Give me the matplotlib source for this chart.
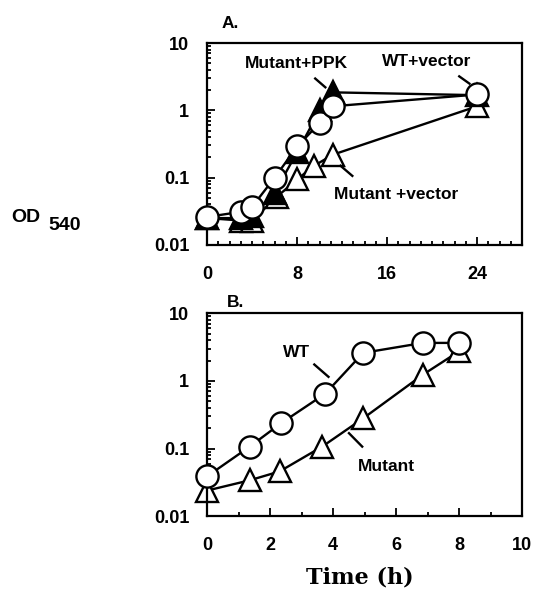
import numpy as np
import matplotlib
matplotlib.use("Agg")
import matplotlib.pyplot as plt
from matplotlib.ticker import FixedLocator, MultipleLocator, LogLocator, NullFormatter

plt.rcParams['font.family'] = ['Liberation Sans', 'DejaVu Sans']
plt.rcParams['font.weight'] = 'bold'

# Panel A data (time in h, OD540)
a_wt_t = [0, 3, 4, 6, 8, 10, 11.2, 24]
a_wt_od = [0.026, 0.031, 0.037, 0.10, 0.29, 0.65, 1.15, 1.72]
a_ppk_t = [0, 3, 4, 6, 8, 10, 11.2, 24]
a_ppk_od = [0.025, 0.025, 0.027, 0.06, 0.24, 1.0, 1.85, 1.68]
a_vec_t = [0, 3, 4, 6.2, 8, 9.5, 11.2, 24]
a_vec_od = [0.025, 0.023, 0.023, 0.052, 0.094, 0.15, 0.22, 1.15]

# Panel B data
b_wt_t = [0, 1.35, 2.35, 3.75, 4.95, 6.85, 8.0]
b_wt_od = [0.039, 0.107, 0.238, 0.65, 2.6, 3.65, 3.65]
b_mut_t = [0, 1.35, 2.3, 3.65, 4.95, 6.85, 8.0]
b_mut_od = [0.024, 0.034, 0.046, 0.107, 0.28, 1.24, 2.75]

y_ticks = [0.01, 0.1, 1, 10]
y_labels = ['0.01', '0.1', '1', '10']

fig = plt.figure(figsize=(5.34, 5.90), dpi=100)
axA = fig.add_axes([0.388, 0.585, 0.590, 0.342])
axB = fig.add_axes([0.388, 0.125, 0.590, 0.344])

ms = 16
lw = 1.7
tri = dict(marker='^', ms=ms, mew=lw, mec='black', color='black', lw=lw)
circ = dict(marker='o', ms=ms, mew=lw, mec='black', mfc='white', color='black', lw=lw)

# Panel A
axA.plot(a_vec_t, a_vec_od, mfc='white', zorder=2, clip_on=False, **tri)
axA.plot(a_ppk_t, a_ppk_od, mfc='black', zorder=3, clip_on=False, **tri)
axA.plot(a_wt_t, a_wt_od, zorder=4, clip_on=False, **circ)

# Panel B
axB.plot(b_mut_t, b_mut_od, mfc='white', zorder=2, clip_on=False, **tri)
axB.plot(b_wt_t, b_wt_od, zorder=4, clip_on=False, **circ)

for ax in (axA, axB):
    ax.set_yscale('log')
    ax.set_ylim(0.01, 10)
    ax.yaxis.set_major_locator(FixedLocator(y_ticks))
    ax.set_yticklabels(y_labels)
    ax.yaxis.set_minor_locator(LogLocator(base=10, subs=np.arange(2, 10)))
    ax.yaxis.set_minor_formatter(NullFormatter())
    for s in ax.spines.values():
        s.set_linewidth(1.6)
    ax.tick_params(which='both', direction='in', top=False, right=False, width=1.3)
    ax.tick_params(which='major', length=6, labelsize=13)
    ax.tick_params(which='minor', length=3)
    ax.tick_params(axis='y', pad=13)
    ax.tick_params(axis='x', pad=15)

axA.set_xlim(0, 28)
axA.xaxis.set_major_locator(FixedLocator([0, 8, 16, 24]))
axA.xaxis.set_minor_locator(MultipleLocator(1))

axB.set_xlim(0, 10)
axB.xaxis.set_major_locator(FixedLocator([0, 2, 4, 6, 8, 10]))
axB.xaxis.set_minor_locator(MultipleLocator(1))

# Annotations, panel A
fs = 12.5
axA.text(7.9, 5.0, 'Mutant+PPK', fontsize=fs, ha='center', va='center')
axA.plot([9.6, 10.5], [2.97, 2.2], color='black', lw=1.7)
axA.text(19.5, 5.3, 'WT+vector', fontsize=fs, ha='center', va='center')
axA.plot([22.4, 23.3], [3.2, 2.5], color='black', lw=1.7)
axA.text(16.8, 0.056, 'Mutant +vector', fontsize=fs, ha='center', va='center')
axA.plot([11.85, 12.9], [0.15, 0.106], color='black', lw=1.7)

# Annotations, panel B
axB.text(2.85, 2.6, 'WT', fontsize=fs, ha='center', va='center')
axB.plot([3.4, 3.85], [1.75, 1.15], color='black', lw=1.7)
axB.text(5.7, 0.054, 'Mutant', fontsize=fs, ha='center', va='center')
axB.plot([4.5, 4.92], [0.169, 0.107], color='black', lw=1.7)

# Panel letters
fig.text(222 / 534, 1 - 28 / 590, 'A.', fontsize=12.5, ha='left', va='baseline')
fig.text(227 / 534, 1 - 307 / 590, 'B.', fontsize=12.5, ha='left', va='baseline')

# Y axis label
fig.text(11 / 534, 1 - 217 / 590, 'OD', fontsize=14, ha='left', va='center')
fig.text(48 / 534, 1 - 226 / 590, '540', fontsize=14, ha='left', va='center')

# X axis label
fig.text(360 / 534, 0.002, 'Time (h)', fontsize=16, ha='center', va='bottom',
         family='DejaVu Serif', weight='bold')

fig.savefig('out.png', dpi=100)
